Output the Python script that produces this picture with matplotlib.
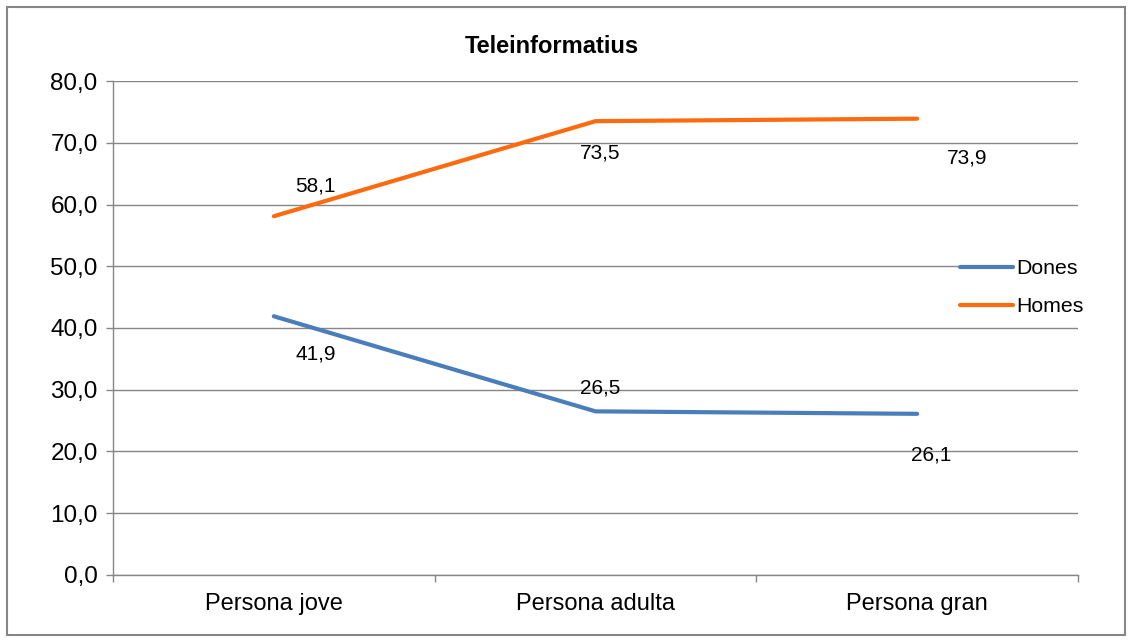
"""Teleinformatius: Dones vs Homes per grup d'edat (line chart, Excel style)."""

import matplotlib
matplotlib.use("Agg")
import matplotlib.pyplot as plt
from matplotlib.patches import Rectangle
from matplotlib.ticker import FuncFormatter

categories = ["Persona jove", "Persona adulta", "Persona gran"]
dones = [41.9, 26.5, 26.1]
homes = [58.1, 73.5, 73.9]
yticks = [0, 10, 20, 30, 40, 50, 60, 70, 80]

BLUE = "#4A7EBB"
ORANGE = "#FF6A0F"
GREY = "#868686"

plt.rcParams["font.family"] = ["Liberation Sans", "DejaVu Sans"]

fig = plt.figure(figsize=(11.32, 6.42), dpi=100)
ax = fig.add_axes([0.0998, 0.1044, 0.8525, 0.7694])

x = list(range(len(categories)))
ax.plot(x, dones, color=BLUE, lw=3.0, solid_capstyle="round", label="Dones")
ax.plot(x, homes, color=ORANGE, lw=3.0, solid_capstyle="round", label="Homes")


def fmt(v):
    return f"{v:.1f}".replace(".", ",")


# data labels, offsets in points (px * 0.72)
dones_off = [(30, -27), (3.6, 17), (10, -30)]
homes_off = [(30, 22), (3.6, -23), (36, -28)]
for xi, v, off in zip(x, dones, dones_off):
    ax.annotate(fmt(v), (xi, v), xytext=off, textcoords="offset points",
                ha="center", va="center", fontsize=15)
for xi, v, off in zip(x, homes, homes_off):
    ax.annotate(fmt(v), (xi, v), xytext=off, textcoords="offset points",
                ha="center", va="center", fontsize=15)

ax.set_xlim(-0.5, 2.5)
ax.set_ylim(0, 80)
ax.set_yticks(yticks)
ax.yaxis.set_major_formatter(FuncFormatter(lambda v, p: fmt(v)))
ax.grid(axis="y", color=GREY, lw=1.0)
ax.set_axisbelow(True)

# category labels centered, tick marks at boundaries
ax.set_xticks([-0.5, 0.5, 1.5, 2.5])
ax.set_xticklabels([])
ax.set_xticks(x, minor=True)
ax.set_xticklabels(categories, minor=True)
ax.tick_params(axis="x", which="minor", length=0, pad=13, labelsize=17)
ax.tick_params(axis="x", which="major", length=5, color=GREY, width=1.0)
ax.tick_params(axis="y", length=5, color=GREY, width=1.0, labelsize=17.5, pad=6)

for s in ["top", "right"]:
    ax.spines[s].set_visible(False)
for s in ["left", "bottom"]:
    ax.spines[s].set_color(GREY)
    ax.spines[s].set_linewidth(1.0)

fig.text(0.4878, 0.927, "Teleinformatius", ha="center", va="center",
         fontsize=17, fontweight="bold")

leg = fig.legend(loc="center left", bbox_to_anchor=(0.8365, 0.552),
                 frameon=True, facecolor="white", edgecolor="none",
                 framealpha=1.0, fancybox=False,
                 fontsize=15.3, handlelength=2.5, handletextpad=0.15,
                 labelspacing=0.9, borderpad=0.1)

fig.add_artist(Rectangle((0.006, 0.011), 0.988, 0.978, transform=fig.transFigure,
                         fill=False, edgecolor=GREY, lw=1.5))

fig.savefig("out.png", dpi=100)
